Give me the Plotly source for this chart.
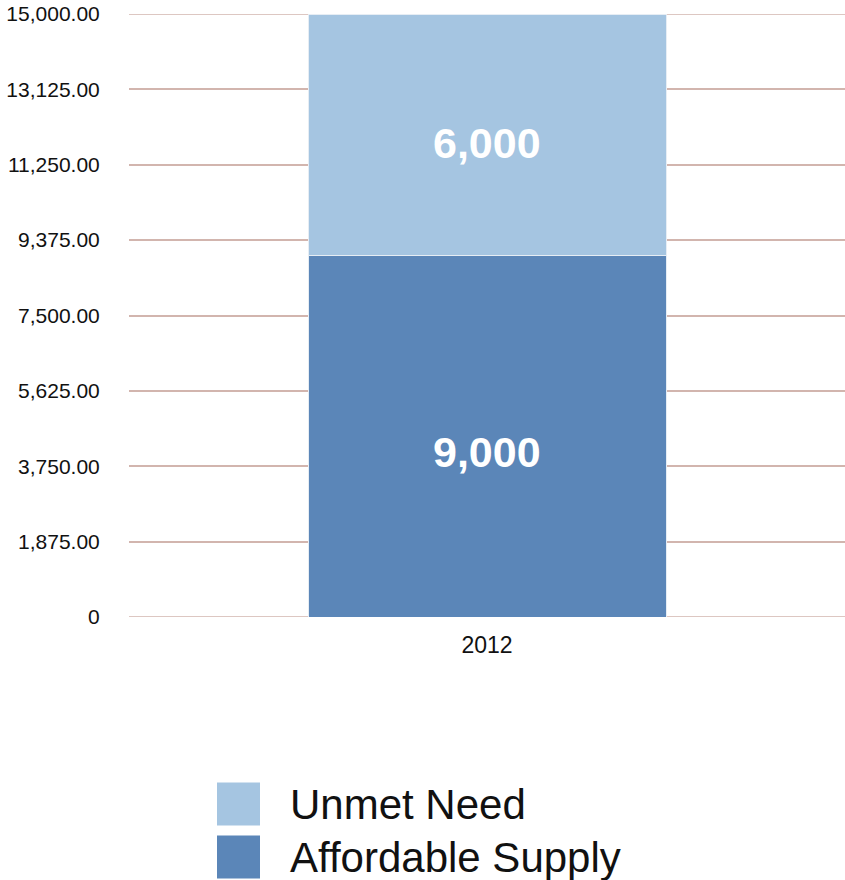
import plotly.graph_objects as go

categories = ["2012"]
series_names = ["Affordable Supply", "Unmet Need"]
affordable_supply = [9000]
unmet_need = [6000]
series_colors = ["#5b86b8", "#a5c5e1"]
y_tick_vals = [0, 1875, 3750, 5625, 7500, 9375, 11250, 13125, 15000]
y_tick_text = ["0", "1,875.00", "3,750.00", "5,625.00", "7,500.00",
               "9,375.00", "11,250.00", "13,125.00", "15,000.00"]

values = [affordable_supply, unmet_need]

fig = go.Figure()
for name, vals, col in zip(series_names, values, series_colors):
    fig.add_trace(go.Bar(
        x=categories, y=vals, name=name,
        marker=dict(color=col, line=dict(color="#e6edf4", width=1)),
        showlegend=False,
    ))

# value labels inside segments
base = [0] * len(categories)
label_shift = [-16, -8]
for vals, sh in zip(values, label_shift):
    for i, c in enumerate(categories):
        fig.add_annotation(
            x=i, y=base[i] + vals[i] / 2, text="<b>" + f"{vals[i]:,}" + "</b>",
            showarrow=False, yshift=sh,
            font=dict(family="Liberation Sans, Arial, sans-serif", size=43, color="white"),
        )
        base[i] += vals[i]

# custom large legend (top entry = last series)
legend_rows = list(zip(series_names, series_colors))[::-1]
row_y = [804, 857]
for (name, col), yc in zip(legend_rows, row_y):
    fig.add_shape(type="rect", xref="paper", yref="paper",
                  x0=(217 - 129) / 716, x1=(260 - 129) / 716,
                  y0=(617 - (yc + 21.5)) / 603, y1=(617 - (yc - 21.5)) / 603,
                  fillcolor=col, line=dict(width=0))
    fig.add_annotation(xref="paper", yref="paper",
                       x=(288 - 129) / 716, y=(617 - yc) / 603,
                       xanchor="left", yanchor="middle", showarrow=False,
                       text=name,
                       font=dict(family="Liberation Sans, Arial, sans-serif", size=42, color="#111111"))

fig.update_layout(
    width=845, height=880,
    margin=dict(l=129, r=0, t=14, b=263),
    barmode="stack", bargap=0.5,
    plot_bgcolor="white", paper_bgcolor="white",
    showlegend=False,
    font=dict(family="Liberation Sans, Arial, sans-serif", color="#111111"),
)
fig.update_yaxes(
    range=[0, 15000], tickvals=y_tick_vals, ticktext=y_tick_text,
    showgrid=True, gridcolor="#d2b5ae", gridwidth=1.5,
    zeroline=False, showline=False, ticks="outside", ticklen=24, tickcolor="rgba(0,0,0,0)",
    tickfont=dict(size=21, color="#111111"),
)
fig.update_xaxes(
    type="category", range=[-0.5, 0.5],
    showgrid=False, showline=False, ticks="outside", ticklen=7, tickcolor="rgba(0,0,0,0)",
    tickfont=dict(size=23, color="#111111"),
)
# gridlines at the range edges (plotly omits them)
for v in (y_tick_vals[0], y_tick_vals[-1]):
    fig.add_shape(type="line", xref="paper", yref="y", x0=0, x1=1, y0=v, y1=v,
                  line=dict(color="#d2b5ae", width=1.5), layer="below")

fig.write_html("out.html")
